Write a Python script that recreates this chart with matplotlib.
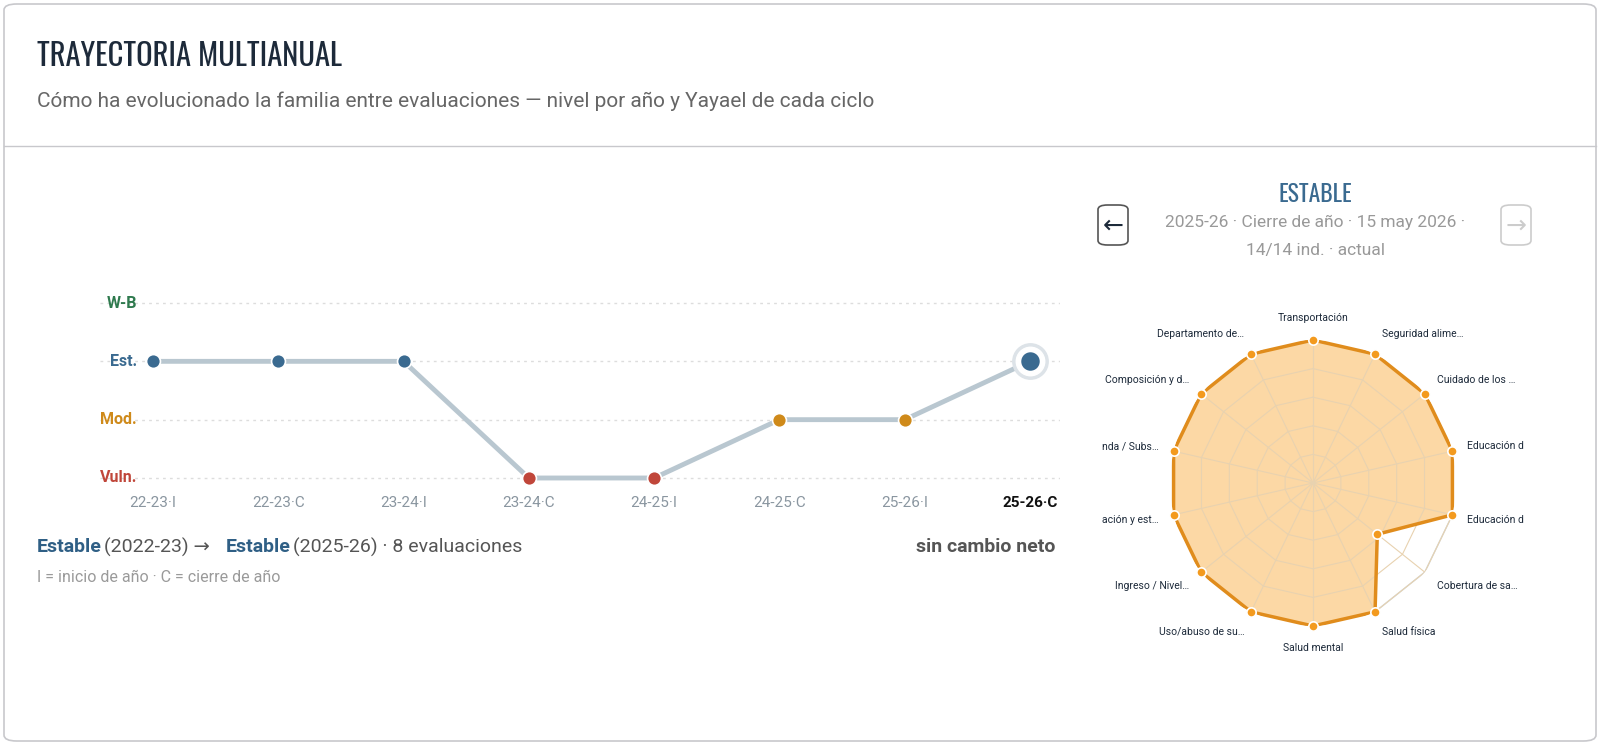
import numpy as np
import matplotlib
matplotlib.use('Agg')
import matplotlib.pyplot as plt
from matplotlib.patches import FancyBboxPatch

plt.rcParams['font.family'] = ['Roboto', 'DejaVu Sans']

# data
cycles = ['22-23·I', '22-23·C', '23-24·I', '23-24·C', '24-25·I', '24-25·C', '25-26·I', '25-26·C']
levels = [2, 2, 2, 0, 0, 1, 1, 2]          # 0=Vuln. 1=Mod. 2=Est. 3=W-B
level_names = ['Vuln.', 'Mod.', 'Est.', 'W-B']
level_colors = ['#c0463a', '#cf8a1a', '#3a6a90', '#2f7a4e']

radar_labels = ['Transportación', 'Seguridad alime…', 'Cuidado de los …', 'Educación d',
                'Educación d', 'Cobertura de sa…', 'Salud física', 'Salud mental',
                'Uso/abuso de su…', 'Ingreso / Nivel…', 'ación y est…', 'nda / Subs…',
                'Composición y d…', 'Departamento de…']
radar_now = [4, 4, 4, 4, 4, 2.3, 4, 4, 4, 4, 4, 4, 4, 4]
radar_prev = [4, 4, 4, 4, 4, 4, 4, 4, 4, 4, 4, 4, 4, 4]

W, H = 1600, 745
fig = plt.figure(figsize=(W / 100, H / 100), dpi=100)
fig.patch.set_facecolor('white')

def fx(px): return px / W
def fy(py): return 1 - py / H

# card
card = FancyBboxPatch((fx(4), fy(741)), fx(1592), 737 / H, boxstyle='round,pad=0,rounding_size=0.008',
                      transform=fig.transFigure, facecolor='white', edgecolor='#c8c8cc', lw=1.2, zorder=-5)
fig.add_artist(card)
fig.add_artist(plt.Line2D([fx(4), fx(1596)], [fy(146), fy(146)], color='#c8c8cc', lw=1,
                          transform=fig.transFigure, zorder=-4))

fig.text(fx(37), fy(56), 'TRAYECTORIA MULTIANUAL', fontsize=22, color='#1d2a3a', va='center',
         fontstretch='condensed', family=['Oswald', 'Roboto Condensed', 'DejaVu Sans'])
fig.text(fx(37), fy(101), 'Cómo ha evolucionado la familia entre evaluaciones — nivel por año y Yayael de cada ciclo',
         fontsize=15, color='#666666', va='center')

# trajectory chart
ppx = (1030 - 153) / 7
ppy = (478 - 303) / 3
l, r, t, b = 100, 1060, 285, 500
ax = fig.add_axes([fx(l), fy(b), fx(r - l), (b - t) / H])
ax.set_xlim(-(153 - l) / ppx, 7 + (r - 1030) / ppx)
ax.set_ylim(-(b - 478) / ppy, 3 + (303 - t) / ppy)
ax.axis('off')
x = np.arange(len(cycles))
for lv in range(4):
    ax.axhline(lv, color='#dddddd', lw=1, ls=(0, (2, 3)), zorder=0)
    ax.text(-(153 - 137) / ppx, lv, level_names[lv], ha='right', va='center', fontsize=11.5,
            fontweight='bold', color=level_colors[lv])
ax.plot(x, levels, color='#b9c7d0', lw=3.5, zorder=1, solid_capstyle='round')
for i, lv in enumerate(levels):
    last = i == len(levels) - 1
    if last:
        ax.scatter(i, lv, s=650, color='#dde3e8', zorder=2)
        ax.scatter(i, lv, s=420, color='white', zorder=2)
    ax.scatter(i, lv, s=210 if last else 100, color=level_colors[lv], edgecolor='white', lw=1.2, zorder=3)
    ax.text(i, -(503 - 478) / ppy, cycles[i], ha='center', va='center', fontsize=11,
            color='#111111' if last else '#8a96a0', fontweight='bold' if last else 'normal', clip_on=False)

fig.text(fx(37), fy(547), 'Estable', fontsize=14, color='#2f5f85', fontweight='bold', va='center')
fig.text(fx(104), fy(547), '(2022-23) →', fontsize=14, color='#555555', va='center')
fig.text(fx(226), fy(547), 'Estable', fontsize=14, color='#2f5f85', fontweight='bold', va='center')
fig.text(fx(293), fy(547), '(2025-26) · 8 evaluaciones', fontsize=14, color='#555555', va='center')
fig.text(fx(1055), fy(547), 'sin cambio neto', fontsize=14, color='#555555', fontweight='bold', va='center', ha='right')
fig.text(fx(37), fy(578), 'I = inicio de año · C = cierre de año', fontsize=11.5, color='#9a9a9a', va='center')

# radar header
fig.text(fx(1315), fy(195), 'ESTABLE', fontsize=17, color='#3a6a90', ha='center', va='center',
         family=['Oswald', 'Roboto Condensed', 'DejaVu Sans'], fontstretch='condensed')
fig.text(fx(1315), fy(222), '2025-26 · Cierre de año · 15 may 2026 ·', fontsize=12.5, color='#999999', ha='center', va='center')
fig.text(fx(1315), fy(251), '14/14 ind. · actual', fontsize=12.5, color='#999999', ha='center', va='center')
for cx, col, arr in [(1113, '#555555', '←'), (1516, '#cccccc', '→')]:
    btn = FancyBboxPatch((fx(cx - 15), fy(245)), fx(30), 40 / H, boxstyle='round,pad=0,rounding_size=0.006',
                         transform=fig.transFigure, facecolor='white', edgecolor=col, lw=1.2)
    fig.add_artist(btn)
    fig.text(fx(cx), fy(226), arr, fontsize=18, color='#1d2a3a' if col == '#555555' else '#cccccc',
             ha='center', va='center', family=['DejaVu Sans'])

# radar
rc, rr = (1313, 483), 143
rax = fig.add_axes([fx(rc[0] - rr), fy(rc[1] + rr), fx(2 * rr), 2 * rr / H], polar=True)
n = len(radar_labels)
ang = np.pi / 2 - 2 * np.pi * np.arange(n) / n
ang_c = np.append(ang, ang[0])
rax.set_ylim(0, 4)
rax.axis('off')
for ring in [0.8, 1.6, 2.4, 3.2, 4.0]:
    rax.plot(ang_c, [ring] * (n + 1), color='#e8d2b0', lw=0.8, zorder=2)
for a in ang:
    rax.plot([a, a], [0, 4], color='#e8d2b0', lw=0.8, zorder=2)
prev = np.append(radar_prev, radar_prev[0])
now = np.append(radar_now, radar_now[0])
rax.plot(ang_c, prev, color='#c9d3da', lw=1, zorder=1)
rax.fill(ang_c, now, color='#fbbf6a', alpha=0.6, zorder=1)
rax.plot(ang_c, now, color='#e08c1c', lw=2.5, zorder=3)
rax.scatter(ang, radar_now, s=45, color='#f39a1e', edgecolor='white', lw=1.2, zorder=4, clip_on=False)
for a, lab in zip(ang, radar_labels):
    px = rc[0] + 158 * np.cos(a)
    py = rc[1] - 165 * np.sin(a)
    ha = 'center' if abs(np.cos(a)) < 0.2 else ('left' if np.cos(a) > 0 else 'right')
    fig.text(fx(px), fy(py), lab, fontsize=7.5, color='#1d2a3a', ha=ha, va='center')

fig.savefig('out.png', dpi=100, facecolor='white')
